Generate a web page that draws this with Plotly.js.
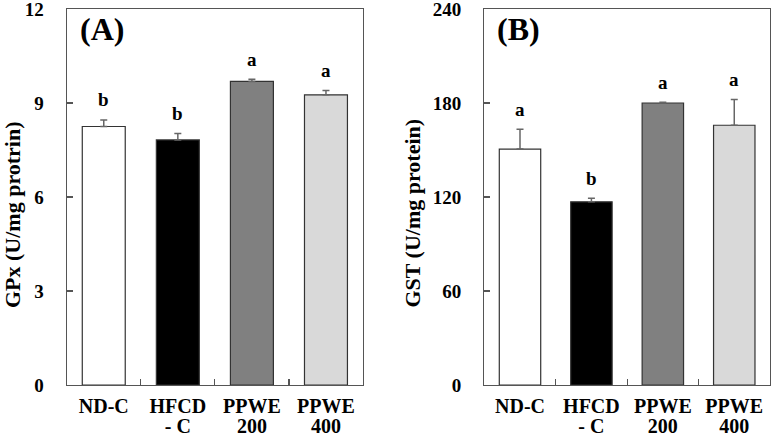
<!DOCTYPE html>
<html>
<head>
<meta charset="utf-8">
<script src="https://cdn.plot.ly/plotly-3.0.1.min.js"></script>
<style>html,body{margin:0;padding:0;background:#fff;}#chart{width:774px;height:436px;}</style>
</head>
<body>
<div id="chart"></div>
<script>
const categories = ['ND-C', 'HFCD<br>- C', 'PPWE<br>200', 'PPWE<br>400'];
const gpxValues = [8.25, 7.82, 9.69, 9.26];
const gpxErrors = [0.21, 0.21, 0.07, 0.14];
const gpxLetters = ['b', 'b', 'a', 'a'];
const gstValues = [150.6, 116.9, 180.0, 165.8];
const gstErrors = [12.6, 2.3, 0.5, 16.4];
const gstLetters = ['a', 'b', 'a', 'a'];
const gpxTicks = [0, 3, 6, 9, 12];
const gstTicks = [0, 60, 120, 180, 240];
const barColors = ['#ffffff', '#000000', '#808080', '#d9d9d9'];

const FONT = '"Liberation Serif", "Times New Roman", serif';
const zeros = categories.map(() => 0);
// display text of category labels: larger glyphs, tight line spacing
const catText = categories.map(c => c.split('<br>').map(s => '<span style="font-size:20px">' + s + '</span>').join('<br>'));

function barTrace(vals, errs, xa, ya) {
  return {
    type: 'bar', x: categories, y: vals, xaxis: xa, yaxis: ya,
    width: 0.58,
    marker: {color: barColors, line: {color: '#333333', width: 1.2}},
    error_y: {type: 'data', symmetric: false, array: errs, arrayminus: zeros,
              color: '#666666', thickness: 1.5, width: 3.5},
    showlegend: false, hoverinfo: 'skip'
  };
}

function letterAnns(vals, errs, letters, xa, ya) {
  return categories.map((c, i) => ({
    x: c, y: vals[i] + errs[i], xref: xa, yref: ya,
    text: letters[i], showarrow: false, yanchor: 'middle', yshift: 20,
    font: {family: FONT, size: 19, color: '#000', weight: 700}
  }));
}

const xCommon = {
  type: 'category', showline: true, mirror: true, linecolor: '#555', linewidth: 1.2,
  ticks: 'inside', tickson: 'boundaries', ticklen: 6, tickcolor: '#555', tickwidth: 1.2,
  tickvals: categories, ticktext: catText,
  tickfont: {family: FONT, size: 15.4, color: '#000', weight: 700},
  ticklabelstandoff: 8, ticklabeloverflow: 'allow',
  showgrid: false, zeroline: false, fixedrange: true
};
const yCommon = {
  showline: true, mirror: true, linecolor: '#555', linewidth: 1.2,
  ticks: 'inside', ticklen: 6, tickcolor: '#555', tickwidth: 1.2,
  tickfont: {family: FONT, size: 19, color: '#000', weight: 700},
  ticklabelstandoff: 18, ticklabeloverflow: 'allow',
  showgrid: false, zeroline: false, fixedrange: true
};

const data = [
  barTrace(gpxValues, gpxErrors, 'x', 'y'),
  barTrace(gstValues, gstErrors, 'x2', 'y2')
];

const titleFont = {family: FONT, size: 22, color: '#000', weight: 700};

const layout = {
  width: 774, height: 436,
  margin: {l: 0, r: 0, t: 9, b: 51},
  paper_bgcolor: '#fff', plot_bgcolor: '#fff',
  xaxis: Object.assign({}, xCommon, {domain: [0.0862, 0.469], anchor: 'y'}),
  yaxis: Object.assign({}, yCommon, {domain: [0, 1], anchor: 'x', range: [0, 12],
    tickvals: gpxTicks}),
  xaxis2: Object.assign({}, xCommon, {domain: [0.6257, 0.9948], anchor: 'y2'}),
  yaxis2: Object.assign({}, yCommon, {domain: [0, 1], anchor: 'x2', range: [0, 240],
    tickvals: gstTicks}),
  annotations: [
    ...letterAnns(gpxValues, gpxErrors, gpxLetters, 'x', 'y'),
    ...letterAnns(gstValues, gstErrors, gstLetters, 'x2', 'y2'),
    {xref: 'paper', yref: 'paper', x: 12 / 774, y: 0.452, text: 'GPx (U/mg protrin)', textangle: -90,
     showarrow: false, xanchor: 'center', yanchor: 'middle', font: titleFont},
    {xref: 'paper', yref: 'paper', x: 413 / 774, y: 0.456, text: 'GST (U/mg protein)', textangle: -90,
     showarrow: false, xanchor: 'center', yanchor: 'middle', font: titleFont},
    {xref: 'x domain', yref: 'y domain', x: 0.118, y: 0.946, text: '(A)', showarrow: false,
     xanchor: 'center', yanchor: 'middle', font: {family: FONT, size: 32, color: '#000', weight: 700}},
    {xref: 'x2 domain', yref: 'y2 domain', x: 0.121, y: 0.946, text: '(B)', showarrow: false,
     xanchor: 'center', yanchor: 'middle', font: {family: FONT, size: 32, color: '#000', weight: 700}}
  ]
};

Plotly.newPlot('chart', data, layout, {displayModeBar: false, staticPlot: true});
</script>
</body>
</html>
